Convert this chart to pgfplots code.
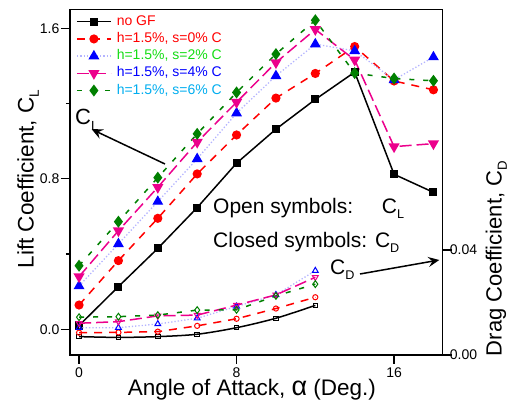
\documentclass[border=0pt]{standalone}
\usepackage{pgfplots}
\pgfplotsset{compat=1.18}
\usepackage{fontspec}
\setmainfont{Liberation Sans}
\usetikzlibrary{arrows.meta}

\definecolor{dkgreen}{RGB}{0,128,0}
\definecolor{lgreen}{RGB}{20,220,20}
\definecolor{lav}{RGB}{180,180,255}
\newcommand\sub[1]{\raisebox{-0.45ex}{\scalebox{0.6}{#1}}}

% lift coefficient vs angle of attack
\pgfplotstableread{
a    nogf   s0     s2     s4     s6
0    0.020  0.129  0.230  0.280  0.338
2    0.227  0.365  0.454  0.524  0.572
4    0.430  0.590  0.679  0.755  0.806
6    0.647  0.826  0.906  0.995  1.039
8    0.883  1.033  1.149  1.207  1.259
10   1.064  1.229  1.347  1.418  1.463
12   1.222  1.360  1.516  1.594  1.643
14   1.367  1.503  1.480  1.432  1.362
16   0.824  1.320  1.326  0.971  1.333
18   0.728  1.273  1.447  0.987  1.321
}\liftdata

% drag coefficient vs angle of attack
\pgfplotstableread{
a    nogf    s0      s2      s4      s6
0    0.0070  0.0085  0.0104  0.0121  0.0144
2    0.0067  0.0086  0.0104  0.0127  0.0146
4    0.0070  0.0089  0.0118  0.0149  0.0152
6    0.0079  0.0111  0.0140  0.0152  0.0171
8    0.0104  0.0138  0.0185  0.0190  0.0172
10   0.0140  0.0177  0.0229  0.0229  0.0225
12   0.0189  0.0220  0.0321  0.0296  0.0270
}\dragdata

\pgfplotsset{
  common/.style={
    at={(0pt,0pt)}, anchor=south west,
    scale only axis, width=372.7pt, height=345.5pt,
    xmin=-0.46, xmax=18.47,
    tick align=outside,
    major tick length=9pt, minor tick length=4pt,
    every tick/.style={black, line width=1.2pt},
    axis line style={line width=1.5pt},
    /pgf/number format/assume math mode=true,
    ticklabel style={font=\fontsize{14}{16}\selectfont},
  },
}

\begin{document}
\begin{tikzpicture}
\useasboundingbox (-70pt,-46pt) rectangle (437pt,355pt);

\begin{axis}[common,
  ymin=-0.1366, ymax=1.70,
  xtick={0,8,16},
  ytick={0,0.8,1.6}, minor ytick={0.4,1.2},
  tick pos=left,
  yticklabel style={/pgf/number format/fixed, /pgf/number format/fixed zerofill, /pgf/number format/precision=1, inner sep=1.5pt},
  every axis y label/.style={at={(rel axis cs:-0.0979,0.509)}, anchor=base, rotate=90},
  every axis x label/.style={at={(rel axis cs:0.488,-0.118)}, anchor=base},
  label style={font=\fontsize{22.5}{26}\selectfont},
  ylabel={Lift Coefficient, C\sub{L}},
  xlabel={Angle of Attack, {\fontsize{27}{27}\selectfont α} (Deg.)},
  legend image code/.code={\draw[mark repeat=2,mark phase=2,#1] plot coordinates {(0pt,0pt) (17pt,0pt) (34pt,0pt)};},
  legend style={at={(rel axis cs:0.016,0.99)}, anchor=north west, draw=none, fill=none,
    inner sep=0pt, row sep=0pt, column sep=3pt,
    nodes={inner sep=2.1pt, text height=10pt, text depth=3pt, font=\fontsize{14}{16}\selectfont}},
  legend cell align=left,
]
\addplot[black, line width=1.5pt, mark=square*, mark size=3.3pt] table[x=a, y=nogf] {\liftdata};
\addlegendentry{\textcolor{red}{no GF}}
\addplot[red, line width=1.5pt, dash pattern=on 8pt off 7pt, mark=*, mark size=3.8pt, mark options={solid}] table[x=a, y=s0] {\liftdata};
\addlegendentry{\textcolor{red}{h=1.5\%, s=0\% C}}
\addplot[lav, line width=1.3pt, dotted, mark=triangle*, mark size=5pt, mark options={solid, blue}] table[x=a, y=s2] {\liftdata};
\addlegendentry{\textcolor{lgreen}{h=1.5\%, s=2\% C}}
\addplot[magenta, line width=1.5pt, dash pattern=on 12pt off 5pt, mark=triangle*, mark size=5pt, mark options={solid, rotate=180}] table[x=a, y=s4] {\liftdata};
\addlegendentry{\textcolor{blue}{h=1.5\%, s=4\% C}}
\addplot[dkgreen, line width=1.5pt, dash pattern=on 5pt off 9pt, mark=diamond*, mark size=4.8pt, mark options={solid}] table[x=a, y=s6] {\liftdata};
\addlegendentry{\textcolor{cyan}{h=1.5\%, s=6\% C}}
\end{axis}

\begin{axis}[common,
  axis x line=none, axis y line*=right,
  ymin=0, ymax=0.1316,
  ytick={0,0.04}, scaled y ticks=false,
  yticklabel style={/pgf/number format/fixed, /pgf/number format/fixed zerofill, /pgf/number format/precision=2, inner sep=0pt, xshift=-2pt},
  every axis y label/.style={at={(rel axis cs:1.158,0.279)}, anchor=base, rotate=90},
  label style={font=\fontsize{22}{26}\selectfont},
  ylabel={Drag Coefficient, C\sub{D}},
]
\addplot[black, line width=1.5pt, smooth, mark=square, mark size=2.2pt, mark options={line width=1pt}] table[x=a, y=nogf] {\dragdata};
\addplot[red, line width=1.5pt, dash pattern=on 8pt off 7pt, mark=o, mark size=2.6pt, mark options={solid, line width=1pt}] table[x=a, y=s0] {\dragdata};
\addplot[lav, line width=1.3pt, dotted, mark=triangle, mark size=3.4pt, mark options={solid, blue, line width=1pt}] table[x=a, y=s2] {\dragdata};
\addplot[magenta, line width=1.5pt, dash pattern=on 12pt off 5pt, mark=triangle, mark size=3.4pt, mark options={solid, rotate=180, line width=1pt}] table[x=a, y=s4] {\dragdata};
\addplot[dkgreen, line width=1.5pt, dash pattern=on 5pt off 9pt, mark=diamond, mark size=3.4pt, mark options={solid, line width=1pt}] table[x=a, y=s6] {\dragdata};
\end{axis}

% annotations
\draw[line width=1.5pt, -{Stealth[length=11pt, width=10pt, inset=4pt]}] (95pt,191pt) -- (21.7pt,225.7pt);
\draw[line width=1.5pt, -{Stealth[length=11pt, width=10pt, inset=4pt]}] (290pt,81pt) -- (369.3pt,95pt);
\node[anchor=base west, inner sep=0pt, font=\fontsize{22}{26}\selectfont] at (5pt,230pt) {C\sub{L}};
\node[anchor=base west, inner sep=0pt, font=\fontsize{21}{26}\selectfont] at (260pt,80pt) {C\sub{D}};
\node[anchor=base west, inner sep=0pt, font=\fontsize{21}{24}\selectfont] at (143pt,141.7pt) {Open symbols:};
\node[anchor=base west, inner sep=0pt, font=\fontsize{21}{24}\selectfont] at (311.7pt,141.7pt) {C\sub{L}};
\node[anchor=base west, inner sep=0pt, font=\fontsize{21}{24}\selectfont] at (143pt,107.7pt) {Closed symbols: C\sub{D}};
\end{tikzpicture}
\end{document}
